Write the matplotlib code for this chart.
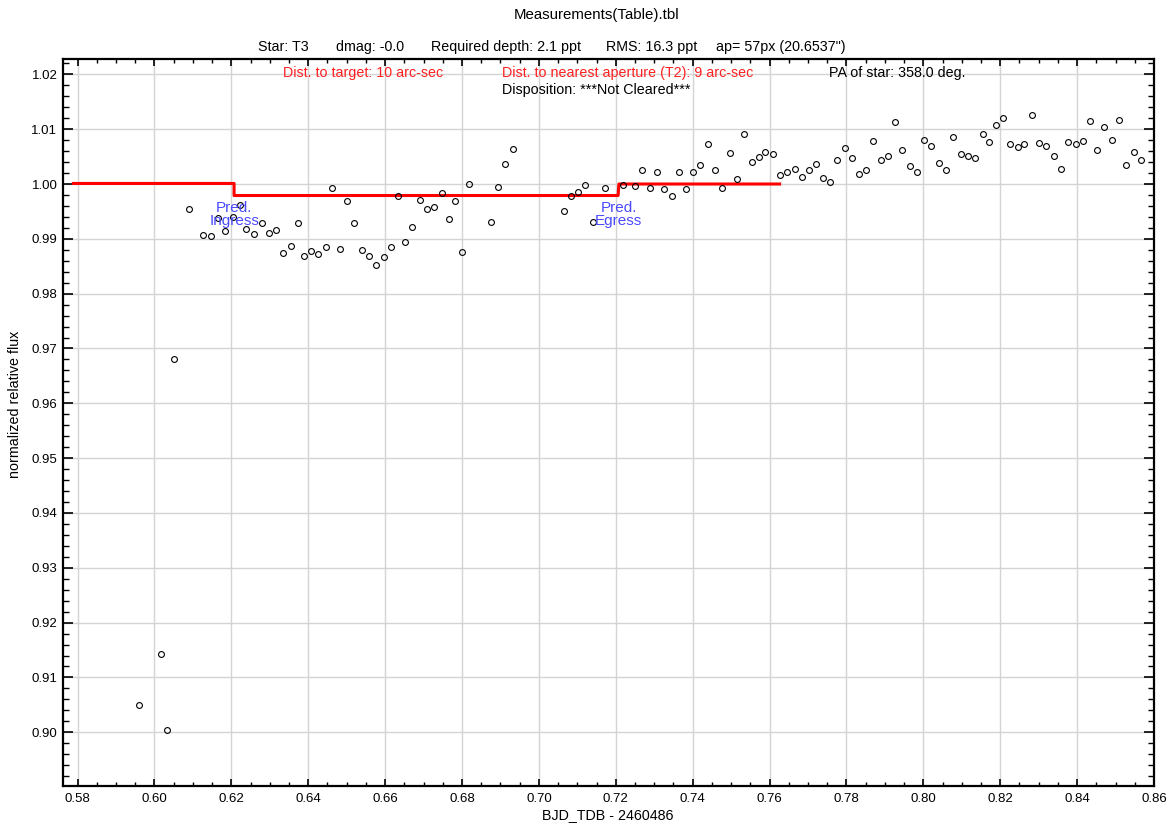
import matplotlib
matplotlib.use("Agg")
import matplotlib.pyplot as plt
from matplotlib.ticker import MultipleLocator, FormatStrFormatter

FONT = ['Liberation Sans', 'DejaVu Sans']
plt.rcParams['font.family'] = FONT

# ---- data ----
time = [0.5960, 0.6017, 0.6032, 0.6051, 0.6089, 0.6127, 0.6146, 0.6165, 0.6184, 0.6203,
        0.6222, 0.6239, 0.6258, 0.6279, 0.6297, 0.6316, 0.6334, 0.6354, 0.6373, 0.6388,
        0.6407, 0.6426, 0.6445, 0.6463, 0.6482, 0.6501, 0.6520, 0.6539, 0.6558, 0.6577,
        0.6596, 0.6614, 0.6633, 0.6652, 0.6671, 0.6690, 0.6709, 0.6728, 0.6747, 0.6766,
        0.6782, 0.6801, 0.6819, 0.6876, 0.6894, 0.6913, 0.6932, 0.7064, 0.7083, 0.7102,
        0.7121, 0.7140, 0.7171, 0.7218, 0.7249, 0.7269, 0.7288, 0.7307, 0.7326, 0.7345,
        0.7364, 0.7383, 0.7402, 0.7420, 0.7439, 0.7458, 0.7477, 0.7496, 0.7515, 0.7534,
        0.7553, 0.7572, 0.7589, 0.7608, 0.7627, 0.7646, 0.7665, 0.7684, 0.7703, 0.7722,
        0.7738, 0.7757, 0.7776, 0.7795, 0.7814, 0.7832, 0.7851, 0.7870, 0.7889, 0.7908,
        0.7926, 0.7945, 0.7964, 0.7983, 0.8002, 0.8021, 0.8040, 0.8059, 0.8078, 0.8097,
        0.8116, 0.8135, 0.8154, 0.8172, 0.8190, 0.8207, 0.8226, 0.8245, 0.8263, 0.8282,
        0.8301, 0.8320, 0.8339, 0.8358, 0.8377, 0.8396, 0.8415, 0.8433, 0.8452, 0.8471,
        0.8490, 0.8509, 0.8528, 0.8547, 0.8566]
flux = [0.9050, 0.9142, 0.9004, 0.9680, 0.99553, 0.99071, 0.99046, 0.99383, 0.99137, 0.99407,
        0.99608, 0.99181, 0.99095, 0.99297, 0.99114, 0.99163, 0.98742, 0.98870, 0.99297, 0.98692,
        0.98771, 0.98716, 0.98852, 0.99932, 0.98808, 0.99687, 0.99297, 0.98790, 0.98692, 0.98515,
        0.98674, 0.98844, 0.99778, 0.98943, 0.99224, 0.99712, 0.99553, 0.99577, 0.99828, 0.99357,
        0.99687, 0.98760, 1.00000, 0.99315, 0.99951, 1.00372, 1.00634, 0.99511, 0.99778, 0.99846,
        0.99974, 0.99315, 0.99932, 0.99974, 0.99956, 1.00262, 0.99925, 1.00218, 0.99907, 0.99773,
        1.00218, 0.99907, 1.00218, 1.00354, 1.00725, 1.00262, 0.99925, 1.00573, 1.00085, 1.00921,
        1.00408, 1.00500, 1.00592, 1.00548, 1.00170, 1.00218, 1.00280, 1.00127, 1.00262, 1.00372,
        1.00108, 1.00042, 1.00438, 1.00658, 1.00482, 1.00176, 1.00262, 1.00786, 1.00438, 1.00505,
        1.01123, 1.00615, 1.00328, 1.00212, 1.00811, 1.00701, 1.00390, 1.00262, 1.00853, 1.00548,
        1.00505, 1.00482, 1.00903, 1.00768, 1.01073, 1.01207, 1.00725, 1.00676, 1.00725, 1.01251,
        1.00744, 1.00701, 1.00505, 1.00280, 1.00768, 1.00725, 1.00793, 1.01147, 1.00615, 1.01031,
        1.00811, 1.01165, 1.00346, 1.00592, 1.00438]

# transit model (step) : times and levels
model_t = [0.5789, 0.6207, 0.6207, 0.7206, 0.7208, 0.7626]
model_f = [1.0001, 1.0001, 0.9979, 0.9979, 1.0000, 1.0000]
ingress_t = 0.6207
egress_t = 0.7207

title = "Measurements(Table).tbl"
subtitle_parts = ["Star: T3", "dmag: -0.0", "Required depth: 2.1 ppt",
                  "RMS: 16.3 ppt", "ap= 57px (20.6537\")"]
subtitle_x = [258, 336, 431, 606, 716]
xlabel = "BJD_TDB - 2460486"
ylabel = "normalized relative flux"

# ---- figure ----
W, H = 1174, 825
fig = plt.figure(figsize=(W / 100, H / 100), dpi=100)
ax = fig.add_axes([63 / W, 1 - 786 / H, (1154 - 63) / W, (786 - 59) / H])

ax.grid(True, which='major', color='#d4d4d4', linewidth=1.0)
ax.set_axisbelow(True)

ax.plot(model_t, model_f, color='#ff0000', linewidth=2.2, zorder=3)
ax.plot(time, flux, linestyle='none', marker='o', markersize=4.2,
        markerfacecolor='none', markeredgecolor='black', markeredgewidth=0.8, zorder=4)

ax.set_xlim(0.5762, 0.8600)
ax.set_ylim(0.8902, 1.0228)

ax.xaxis.set_major_locator(MultipleLocator(0.02))
ax.xaxis.set_minor_locator(MultipleLocator(0.005))
ax.yaxis.set_major_locator(MultipleLocator(0.01))
ax.yaxis.set_minor_locator(MultipleLocator(0.002))
ax.xaxis.set_major_formatter(FormatStrFormatter('%.2f'))
ax.yaxis.set_major_formatter(FormatStrFormatter('%.2f'))

ax.tick_params(axis='both', which='both', direction='in', top=True, right=True,
               labelsize=9.5, color='black')
ax.tick_params(axis='x', which='major', length=5, width=1.2, pad=5)
ax.tick_params(axis='x', which='minor', length=3, width=1.0)
ax.tick_params(axis='y', which='major', length=7, width=1.2, pad=4)
ax.tick_params(axis='y', which='minor', length=4, width=1.0)
for s in ax.spines.values():
    s.set_linewidth(1.6)
    s.set_color('black')

# predicted ingress/egress labels
blue = '#4a4aff'
for tt, lab in [(ingress_t, "Pred.\nIngress"), (egress_t, "Pred.\nEgress")]:
    ax.text(tt, 0.9945, lab, color=blue, fontsize=11, ha='center', va='center',
            linespacing=0.9, zorder=5)

FS = 10.3
# titles and annotations
fig.text(597 / W, 1 - 15 / H, title, ha='center', va='center', fontsize=10.8)
for s_, x_ in zip(subtitle_parts, subtitle_x):
    fig.text(x_ / W, 1 - 47 / H, s_, ha='left', va='center', fontsize=FS)
fig.text(283 / W, 1 - 73 / H, "Dist. to target: 10 arc-sec", color='#ff2020',
         ha='left', va='center', fontsize=FS)
fig.text(502 / W, 1 - 73 / H, "Dist. to nearest aperture (T2): 9 arc-sec", color='#ff2020',
         ha='left', va='center', fontsize=FS)
fig.text(829 / W, 1 - 73 / H, "PA of star: 358.0 deg.", color='black',
         ha='left', va='center', fontsize=FS)
fig.text(502 / W, 1 - 90 / H, "Disposition: ***Not Cleared***", color='black',
         ha='left', va='center', fontsize=FS)

fig.text(608 / W, 1 - 815 / H, xlabel, ha='center', va='center', fontsize=FS)
fig.text(15 / W, 1 - 404 / H, ylabel, ha='center', va='center', rotation=90, fontsize=FS)

fig.savefig("out.png", dpi=100)
